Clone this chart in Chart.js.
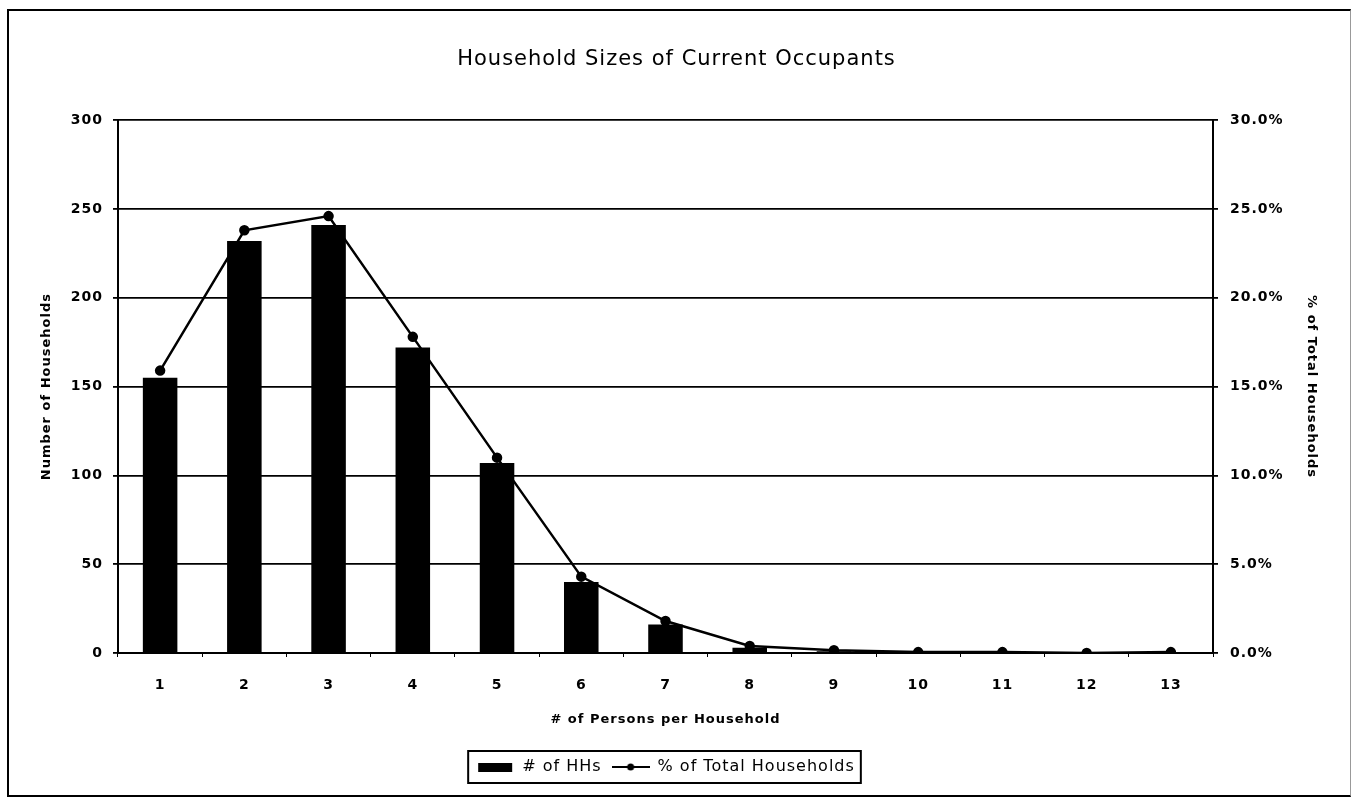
<!DOCTYPE html>
<html>
<head>
<meta charset="utf-8">
<title>Household Sizes of Current Occupants</title>
<script src="https://cdn.jsdelivr.net/npm/chart.js@4.4.1/dist/chart.umd.min.js"></script>
<style>
  html, body { margin: 0; padding: 0; background: #fff; }
  #wrap { position: relative; width: 1353px; height: 800px; }
  #frame {
    position: absolute; left: 7px; top: 9px; width: 1344px; height: 788px;
    box-sizing: border-box; pointer-events: none;
    border-left: 2px solid #000; border-top: 2px solid #000;
    border-bottom: 2px solid #000; border-right: 1px solid #999;
  }
  #chart { position: absolute; left: 0; top: 0; }
</style>
</head>
<body>
<div id="wrap">
  <canvas id="chart" width="1353" height="800"></canvas>
  <div id="frame"></div>
</div>
<script>
const sizes = ['1', '2', '3', '4', '5', '6', '7', '8', '9', '10', '11', '12', '13'];
const households = [155, 232, 241, 172, 107, 40, 16, 3, 1, 0, 0, 0, 0];
const pctTotal = [15.9, 23.8, 24.6, 17.8, 11.0, 4.3, 1.8, 0.4, 0.15, 0.05, 0.05, 0.0, 0.05];
const countTicks = [0, 50, 100, 150, 200, 250, 300];
const pctTicks = [0, 5, 10, 15, 20, 25, 30];

const FONT = '"DejaVu Sans", "Liberation Sans", Arial, sans-serif';

// little legend symbols: solid bar and line with a dot
function symbol(draw) {
    const c = document.createElement('canvas');
    c.width = 38;
    c.height = 12;
    draw(c.getContext('2d'));
    return c;
}
const barSymbol = symbol(ctx => {
    ctx.fillStyle = '#000';
    ctx.fillRect(2, 2, 34, 9);
});
const lineSymbol = symbol(ctx => {
    ctx.strokeStyle = '#000';
    ctx.lineWidth = 2;
    ctx.beginPath();
    ctx.moveTo(0, 6);
    ctx.lineTo(38, 6);
    ctx.stroke();
    ctx.fillStyle = '#000';
    ctx.beginPath();
    ctx.arc(19, 6, 3.5, 0, Math.PI * 2);
    ctx.fill();
});

// the scanned original has widely spaced lettering
const spacing = {
    id: 'spacing',
    beforeLayout(chart) { chart.ctx.letterSpacing = '1px'; },
    beforeDraw(chart) { chart.ctx.letterSpacing = '1px'; }
};

// box round the legend, as in the spreadsheet chart
const legendFrame = {
    id: 'legendFrame',
    afterDraw(chart) {
        const boxes = chart.legend.legendHitBoxes;
        if (!boxes || !boxes.length) return;
        const first = boxes[0];
        const last = boxes[boxes.length - 1];
        const ctx = chart.ctx;
        ctx.save();
        ctx.strokeStyle = '#000';
        ctx.lineWidth = 2;
        ctx.strokeRect(first.left - 8, first.top - 8,
            last.left + last.width - first.left + 14, first.height + 16);
        ctx.restore();
    }
};

new Chart(document.getElementById('chart'), {
    type: 'bar',
    data: {
        labels: sizes,
        datasets: [
            {
                type: 'line',
                label: '% of Total Households',
                data: pctTotal,
                yAxisID: 'y1',
                borderColor: '#000',
                backgroundColor: '#000',
                borderWidth: 2.5,
                pointRadius: 4,
                pointBackgroundColor: '#000',
                tension: 0,
                order: 1
            },
            {
                label: '# of HHs',
                data: households,
                yAxisID: 'y',
                backgroundColor: '#000',
                categoryPercentage: 1,
                barPercentage: 0.41,
                order: 2
            }
        ]
    },
    options: {
        responsive: false,
        animation: false,
        layout: { padding: { top: 10, left: 10, right: 10, bottom: 15 } },
        plugins: {
            title: {
                display: true,
                text: 'Household Sizes of Current Occupants',
                color: '#000',
                font: { family: FONT, size: 21, weight: 'normal' },
                padding: { top: 37, bottom: 48 }
            },
            legend: {
                position: 'bottom',
                fullSize: false,
                labels: {
                    color: '#000',
                    font: { family: FONT, size: 16 },
                    usePointStyle: true,
                    pointStyleWidth: 38,
                    padding: 10,
                    generateLabels: () => [
                        { text: '# of HHs', pointStyle: barSymbol, fillStyle: '#000', strokeStyle: '#000', lineWidth: 0, datasetIndex: 1 },
                        { text: '% of Total Households', pointStyle: lineSymbol, fillStyle: '#000', strokeStyle: '#000', lineWidth: 0, datasetIndex: 0 }
                    ]
                }
            },
            tooltip: { enabled: false }
        },
        scales: {
            x: {
                type: 'category',
                offset: true,
                grid: { offset: true, drawOnChartArea: false, tickLength: 4, color: '#000', lineWidth: 1 },
                border: { color: '#000', width: 2 },
                ticks: { color: '#000', font: { family: FONT, size: 14, weight: 'bold' }, padding: 20 },
                title: {
                    display: true,
                    text: '# of Persons per Household',
                    color: '#000',
                    font: { family: FONT, size: 13, weight: 'bold' },
                    padding: { top: 0, bottom: 22 }
                },
                afterFit(scale) { scale.height = 96; }
            },
            y: {
                position: 'left',
                min: 0,
                max: 300,
                afterBuildTicks(scale) { scale.ticks = countTicks.map(v => ({ value: v })); },
                grid: { color: '#000', lineWidth: 1.8, tickLength: 5 },
                border: { color: '#000', width: 2 },
                ticks: { color: '#000', font: { family: FONT, size: 14, weight: 'bold' }, padding: 10 },
                title: {
                    display: true,
                    text: 'Number of Households',
                    color: '#000',
                    font: { family: FONT, size: 13, weight: 'bold' },
                    padding: { top: 29, bottom: 0 }
                },
                afterFit(scale) { scale.width = 108; }
            },
            y1: {
                position: 'right',
                min: 0,
                max: 30,
                afterBuildTicks(scale) { scale.ticks = pctTicks.map(v => ({ value: v })); },
                grid: { drawOnChartArea: false, color: '#000', lineWidth: 1.8, tickLength: 5 },
                border: { color: '#000', width: 2 },
                ticks: {
                    color: '#000',
                    font: { family: FONT, size: 14, weight: 'bold' },
                    padding: 12,
                    callback: value => value.toFixed(1) + '%'
                },
                title: {
                    display: true,
                    text: '% of Total Households',
                    color: '#000',
                    font: { family: FONT, size: 13, weight: 'bold' },
                    padding: { top: 24, bottom: 0 }
                },
                afterFit(scale) { scale.width = 130; }
            }
        }
    },
    plugins: [spacing, legendFrame]
});
</script>
</body>
</html>
